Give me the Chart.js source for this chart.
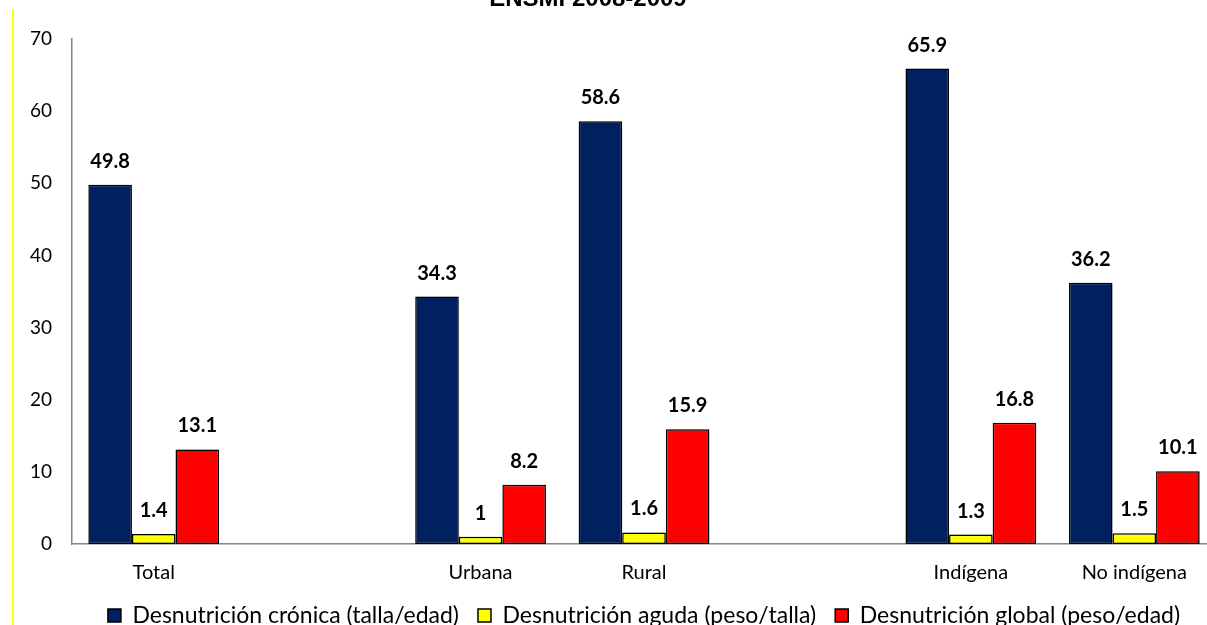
<!DOCTYPE html>
<html lang="es">
<head>
<meta charset="utf-8">
<title>Desnutrición ENSMI 2008-2009</title>
<script src="https://cdn.jsdelivr.net/npm/chart.js@4.4.1/dist/chart.umd.min.js"></script>
<style>
  html, body { margin: 0; padding: 0; background: #fff; overflow: hidden; }
  #wrap { position: relative; width: 1207px; height: 625px; overflow: hidden; }
  #chart { position: absolute; left: 0; top: 0; }
  #title {
    position: absolute; left: 0; top: -14px; width: 1176px;
    text-align: center; color: #000;
    font: bold 24px/24px "Liberation Sans", Arial, sans-serif;
  }
  #edge { position: absolute; left: 12px; top: 9px; width: 2px; height: 620px; background: #ffff00; }
</style>
</head>
<body>
<div id="wrap">
  <div id="edge"></div>
  <canvas id="chart" width="1216" height="637"></canvas>
  <div id="title">ENSMI 2008-2009</div>
</div>
<script>
// blank categories keep the gaps between the groups
const categories = ['Total', '', 'Urbana', 'Rural', '', 'Indígena', 'No indígena'];
const cronica = [49.8, null, 34.3, 58.6, null, 65.9, 36.2];
const aguda = [1.4, null, 1, 1.6, null, 1.3, 1.5];
const globalPE = [13.1, null, 8.2, 15.9, null, 16.8, 10.1];
const yTicks = [0, 10, 20, 30, 40, 50, 60, 70];

const FONT = 'Lato, "Liberation Sans", sans-serif';
Chart.defaults.color = '#000';

// soft shadow under the bars + value labels on top
const barLabels = {
  id: 'barLabels',
  beforeDatasetsDraw(chart) {
    const ctx = chart.ctx;
    ctx.save();
    ctx.shadowColor = 'rgba(0,0,0,0.3)';
    ctx.shadowBlur = 4;
    ctx.shadowOffsetX = 2;
    ctx.shadowOffsetY = 1;
  },
  afterDatasetsDraw(chart) {
    const ctx = chart.ctx;
    ctx.restore();
    ctx.save();
    ctx.font = 'bold 20px ' + FONT;
    ctx.fillStyle = '#000';
    ctx.textAlign = 'center';
    ctx.textBaseline = 'alphabetic';
    chart.data.datasets.forEach((ds, i) => {
      chart.getDatasetMeta(i).data.forEach((bar, j) => {
        if (ds.data[j] == null) return;
        ctx.fillText(String(ds.data[j]), bar.x, bar.y - 17);
      });
    });
    ctx.restore();
  }
};

const ctx = document.getElementById('chart').getContext('2d');

new Chart(ctx, {
  type: 'bar',
  data: {
    labels: categories,
    datasets: [
      { label: 'Desnutrición crónica (talla/edad)', data: cronica, backgroundColor: '#002060' },
      { label: 'Desnutrición aguda (peso/talla)', data: aguda, backgroundColor: '#ffff00' },
      { label: 'Desnutrición global (peso/edad)', data: globalPE, backgroundColor: '#ff0000' }
    ]
  },
  options: {
    responsive: false,
    animation: false,
    datasets: {
      bar: {
        borderColor: '#000',
        borderWidth: 1.5,
        borderSkipped: false,
        categoryPercentage: 0.8,
        barPercentage: 1
      }
    },
    layout: { padding: { top: 39, left: 0, right: 0, bottom: 0 } },
    plugins: {
      tooltip: { enabled: false },
      legend: {
        position: 'bottom',
        fullSize: false,
        labels: {
          boxWidth: 13,
          boxHeight: 13,
          padding: 19,
          color: '#000',
          font: { family: FONT, size: 23 }
        }
      }
    },
    scales: {
      x: {
        afterFit: s => { s.height = 41; },
        grid: { display: false, drawTicks: false },
        border: { color: '#868686', width: 1.5 },
        ticks: {
          padding: 17,
          autoSkip: false,
          maxRotation: 0,
          color: '#000',
          font: { family: FONT, size: 20 }
        }
      },
      y: {
        min: 0,
        max: 70,
        afterBuildTicks: s => { s.ticks = yTicks.map(v => ({ value: v })); },
        afterFit: s => { s.width = 72; },
        grid: { display: false, drawTicks: false },
        border: { color: '#868686', width: 1.5 },
        ticks: {
          padding: 20,
          color: '#000',
          font: { family: FONT, size: 19 }
        }
      }
    }
  },
  plugins: [barLabels]
});
</script>
</body>
</html>
